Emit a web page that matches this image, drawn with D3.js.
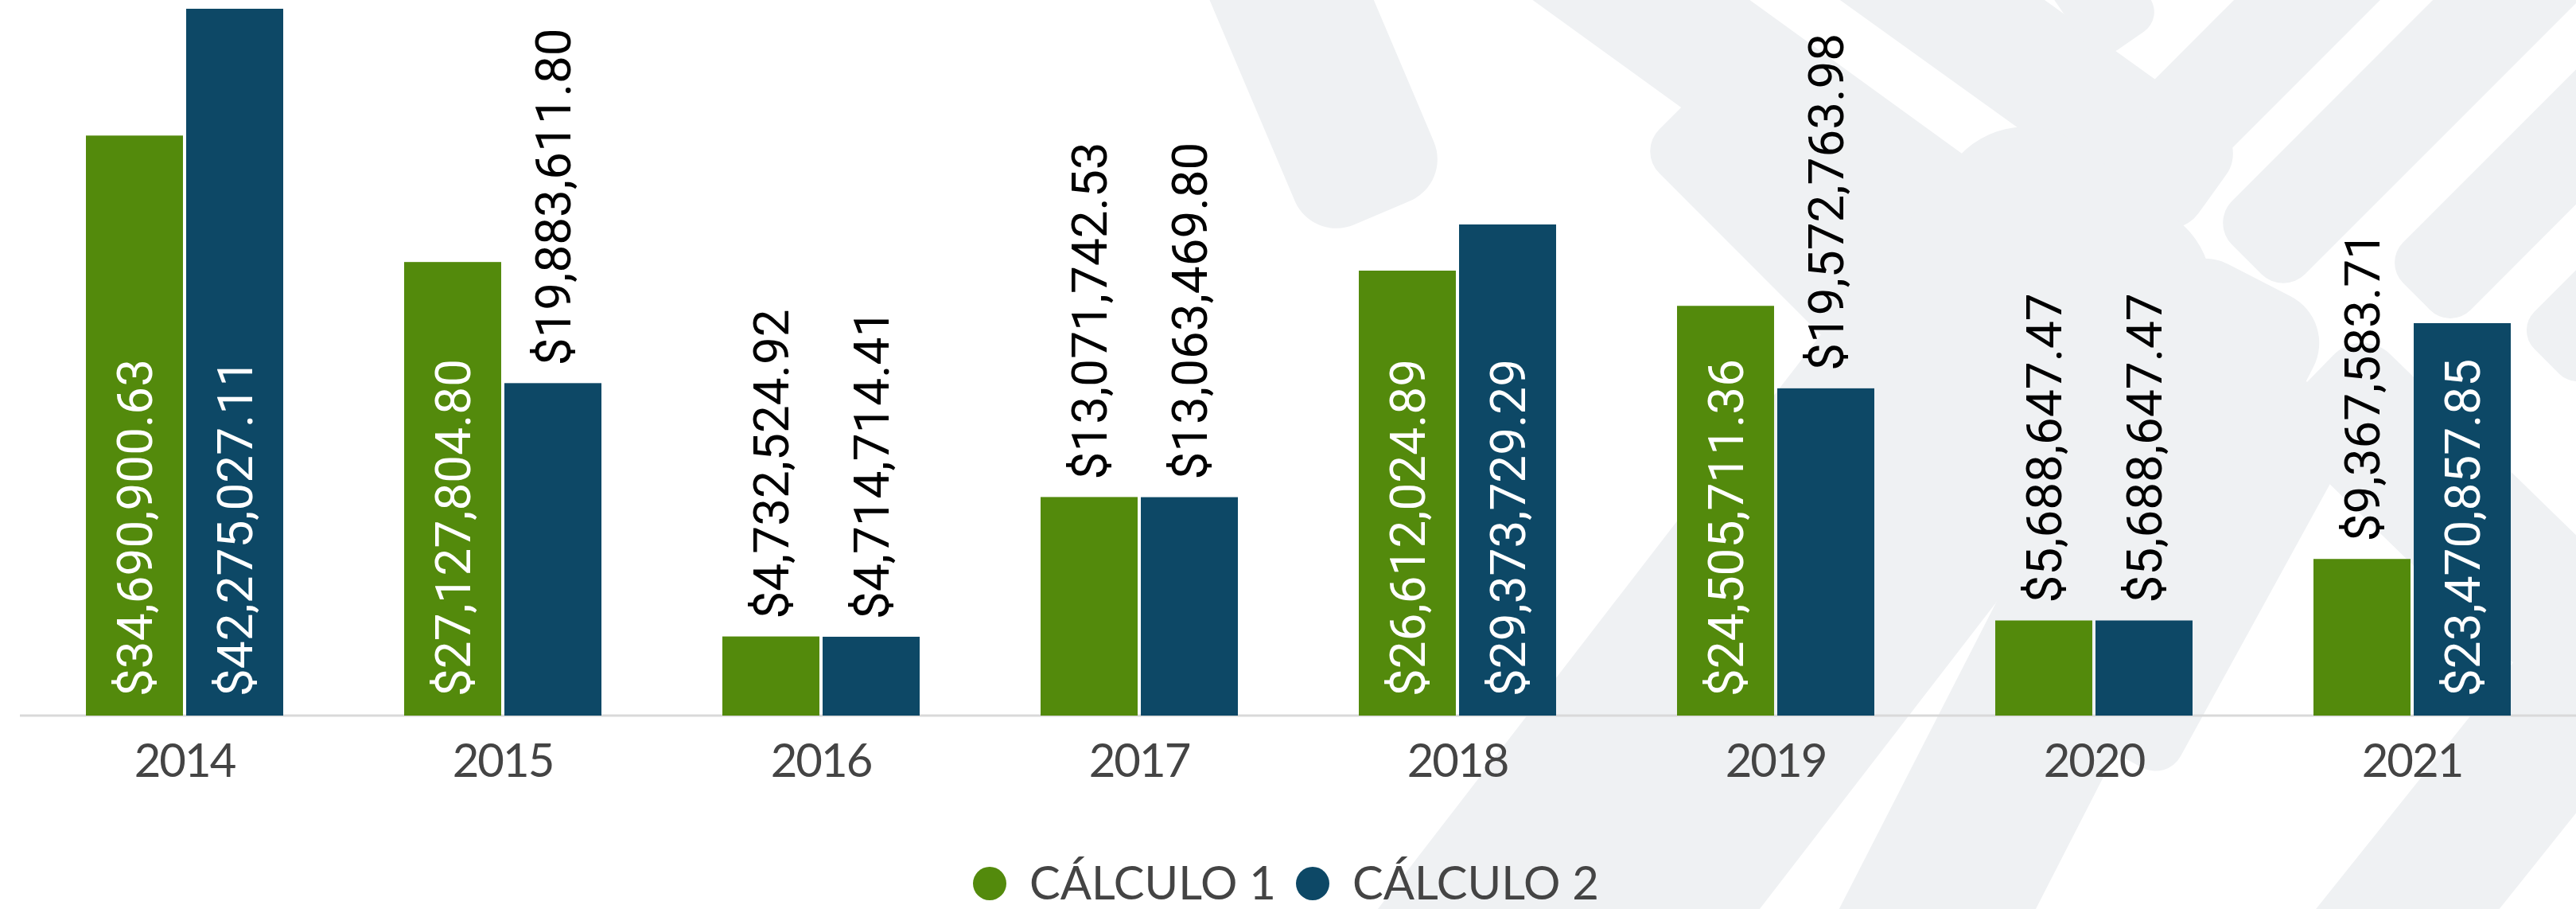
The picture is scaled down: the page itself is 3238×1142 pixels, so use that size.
<!DOCTYPE html>
<html>
<head>
<meta charset="utf-8">
<script src="https://cdn.jsdelivr.net/npm/d3@7"></script>
<style>
  html, body { margin: 0; padding: 0; background: #fff; }
  svg { display: block; }
</style>
</head>
<body>
<svg id="chart"></svg>
<script>
// datos
const years = ['2014', '2015', '2016', '2017', '2018', '2019', '2020', '2021'];
const seriesNames = ['CÁLCULO 1', 'CÁLCULO 2'];
const calculo1 = [34690900.63, 27127804.80, 4732524.92, 13071742.53, 26612024.89, 24505711.36, 5688647.47, 9367583.71];
const calculo2 = [42275027.11, 19883611.80, 4714714.41, 13063469.80, 29373729.29, 19572763.98, 5688647.47, 23470857.85];
const colors = ['#538a0c', '#0d4866'];

const width = 3238, height = 1142;
const baseline = 899;

const svg = d3.select('#chart')
    .attr('width', width)
    .attr('height', height);

svg.append('rect')
    .attr('width', width)
    .attr('height', height)
    .attr('fill', '#fff');

//fondo decorativo (bandas redondeadas)
const decor = [
    {x1: 1560, y1: -150, x2: 1700, y2: 180, w: 190},
    {x1: 1980, y1: -60, x2: 2450, y2: 280, w: 160},
    {x1: 2330, y1: -80, x2: 2720, y2: 200, w: 150},
    {x1: 2560, y1: -120, x2: 2650, y2: 10, w: 100},
    {x1: 2150, y1: 190, x2: 2360, y2: 400, w: 130},
    {x1: 2770, y1: 130, x2: 3010, y2: -110, w: 130},
    {x1: 2870, y1: 280, x2: 3340, y2: -190, w: 130},
    {x1: 3080, y1: 330, x2: 3360, y2: 50, w: 120},
    {x1: 3240, y1: 415, x2: 3400, y2: 255, w: 110},
    {x1: 1850, y1: 1300, x2: 2560, y2: 380, w: 380},
    {x1: 2380, y1: 1250, x2: 2790, y2: 450, w: 220},
    {x1: 2700, y1: 900, x2: 2895, y2: 545, w: 120},
    {x1: 2970, y1: 530, x2: 3350, y2: 900, w: 170},
    {x1: 2900, y1: 1300, x2: 3300, y2: 800, w: 180}
];

const deco = svg.append('g').attr('fill', '#eff1f3');
decor.forEach(function(d) {
    const len = Math.hypot(d.x2 - d.x1, d.y2 - d.y1);
    const ang = Math.atan2(d.y2 - d.y1, d.x2 - d.x1) * 180 / Math.PI;
    deco.append('rect')
        .attr('x', -d.w / 2)
        .attr('y', -d.w / 2)
        .attr('width', len + d.w)
        .attr('height', d.w)
        .attr('rx', d.w * 0.3)
        .attr('transform', `translate(${d.x1}, ${d.y1}) rotate(${ang})`);
});

//escalas
const x0 = d3.scaleBand()
    .domain(years)
    .range([32, 3232])
    .paddingInner(0.38)
    .paddingOuter(0.19);

const x1 = d3.scaleBand()
    .domain([0, 1])
    .range([0, x0.bandwidth()])
    .paddingInner(0.032);

const y = d3.scaleLinear()
    .domain([0, d3.max(calculo2.concat(calculo1))])
    .range([baseline, 11]);

const rows = years.map(function(yr, i) {
    return {year: yr, values: [calculo1[i], calculo2[i]]};
});

//eje x
svg.append('line')
    .attr('x1', 25)
    .attr('x2', width)
    .attr('y1', baseline)
    .attr('y2', baseline)
    .attr('stroke', '#d9d9d9')
    .attr('stroke-width', 3);

const xaxis = svg.append('g')
    .attr('transform', `translate(0, ${baseline})`)
    .call(d3.axisBottom(x0).tickSize(0).tickPadding(0));
xaxis.select('.domain').remove();
xaxis.selectAll('text')
    .attr('y', 77)
    .attr('dy', 0)
    .style('font-family', 'Lato, sans-serif')
    .style('font-size', '58px')
    .style('letter-spacing', '-2px')
    .attr('fill', '#444');

//barras
const groups = svg.append('g')
    .selectAll('g')
    .data(rows)
    .join('g')
    .attr('transform', d => `translate(${x0(d.year)}, 0)`);

groups.selectAll('rect')
    .data(d => d.values.map((v, k) => ({k: k, v: v})))
    .join('rect')
    .attr('x', d => x1(d.k))
    .attr('y', d => y(d.v))
    .attr('width', x1.bandwidth())
    .attr('height', d => baseline - y(d.v))
    .attr('fill', d => colors[d.k]);

//etiquetas de valor
const fmt = d3.format('$,.2f');
groups.selectAll('text.value')
    .data(d => d.values.map((v, k) => ({k: k, v: v})))
    .join('text')
    .attr('class', 'value')
    .style('font-family', 'Roboto, sans-serif')
    .style('font-size', '62px')
    .attr('text-anchor', 'start')
    .attr('dy', '0.36em')
    .text(d => fmt(d.v))
    .each(function(d) {
        const t = d3.select(this);
        const len = this.getComputedTextLength();
        const cx = x1(d.k) + x1.bandwidth() / 2;
        const h = baseline - y(d.v);
        let start, fill;
        if (len + 40 < h) {
            start = baseline - 24;
            fill = '#fff';
        } else {
            start = y(d.v) - 22;
            fill = '#000';
        }
        t.attr('transform', `translate(${cx}, ${start}) rotate(-90)`)
            .attr('fill', fill);
    });

//leyenda
const legendX = [1244, 1650];
const legend = svg.append('g');
seriesNames.forEach(function(name, k) {
    legend.append('circle')
        .attr('cx', legendX[k])
        .attr('cy', 1110)
        .attr('r', 21)
        .attr('fill', colors[k]);
    legend.append('text')
        .attr('x', legendX[k] + 50)
        .attr('y', 1130)
        .style('font-family', 'Lato, sans-serif')
        .style('font-size', '58px')
        .attr('fill', '#444')
        .text(name);
});
</script>
</body>
</html>
